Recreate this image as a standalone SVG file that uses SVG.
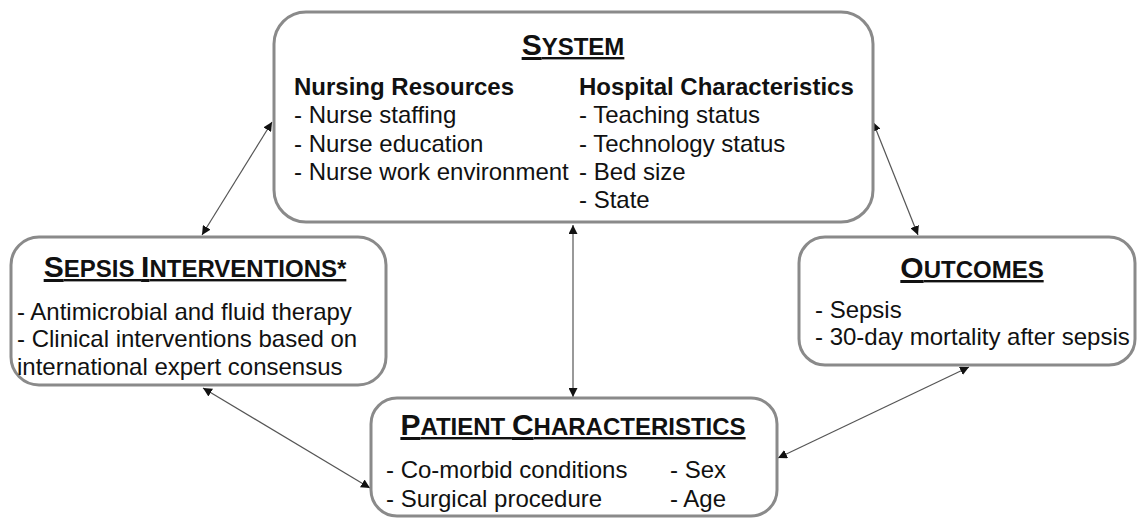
<svg xmlns="http://www.w3.org/2000/svg" width="1142" height="518" viewBox="0 0 1142 518">
<defs>
<marker id="ah" viewBox="0 0 10 10" refX="10" refY="5" markerWidth="9" markerHeight="9" markerUnits="userSpaceOnUse" orient="auto-start-reverse">
<path d="M0,0 L10,5 L0,10 z" fill="#111"/>
</marker>
<style>
.box{fill:#fff;stroke:#8a8a8a;stroke-width:3}
.t{font-family:"Liberation Sans",Arial,sans-serif;fill:#111;font-size:24px}
.b{font-weight:bold}
.title{font-family:"Liberation Sans",Arial,sans-serif;font-weight:bold;fill:#111;text-anchor:middle;text-decoration:underline;font-size:24px}
.cap{font-size:30px}
.c{stroke:#555;stroke-width:1.2;fill:none;marker-start:url(#ah);marker-end:url(#ah)}
</style>
</defs>
<rect width="1142" height="518" fill="#fff"/>
<g id="connectors">
<line class="c" x1="272" y1="122" x2="202" y2="235"/>
<line class="c" x1="873" y1="122" x2="918" y2="235"/>
<line class="c" x1="573" y1="225" x2="573" y2="397"/>
<line class="c" x1="203" y1="388" x2="370" y2="488"/>
<line class="c" x1="969" y1="367" x2="778" y2="458"/>
</g>
<g id="system">
<rect class="box" x="274" y="12" width="599" height="210" rx="32"/>
<text class="title" x="573" y="55"><tspan class="cap">S</tspan>YSTEM</text>
<text class="t b" x="294" y="95">Nursing Resources</text>
<text class="t" x="294" y="123">- Nurse staffing</text>
<text class="t" x="294" y="152">- Nurse education</text>
<text class="t" x="294" y="180">- Nurse work environment</text>
<text class="t b" x="579" y="95">Hospital Characteristics</text>
<text class="t" x="579" y="123">- Teaching status</text>
<text class="t" x="579" y="152">- Technology status</text>
<text class="t" x="579" y="180">- Bed size</text>
<text class="t" x="579" y="208">- State</text>
</g>
<g id="sepsis-interventions">
<rect class="box" x="11" y="237" width="375" height="148" rx="28"/>
<text class="title" x="195" y="277"><tspan class="cap">S</tspan>EPSIS <tspan class="cap">I</tspan>NTERVENTIONS*</text>
<text class="t" x="17" y="320">- Antimicrobial and fluid therapy</text>
<text class="t" x="17" y="347">- Clinical interventions based on</text>
<text class="t" x="17" y="375">international expert consensus</text>
</g>
<g id="outcomes">
<rect class="box" x="799" y="237" width="336" height="128" rx="26"/>
<text class="title" x="972" y="278"><tspan class="cap">O</tspan>UTCOMES</text>
<text class="t" x="815" y="318">- Sepsis</text>
<text class="t" x="815" y="345">- 30-day mortality after sepsis</text>
</g>
<g id="patient-characteristics">
<rect class="box" x="371" y="398" width="406" height="118" rx="26"/>
<text class="title" x="573" y="435"><tspan class="cap">P</tspan>ATIENT  <tspan class="cap">C</tspan>HARACTERISTICS</text>
<text class="t" x="386" y="478">- Co-morbid conditions</text>
<text class="t" x="386" y="507">- Surgical procedure</text>
<text class="t" x="670" y="478">- Sex</text>
<text class="t" x="670" y="507">- Age</text>
</g>
</svg>
